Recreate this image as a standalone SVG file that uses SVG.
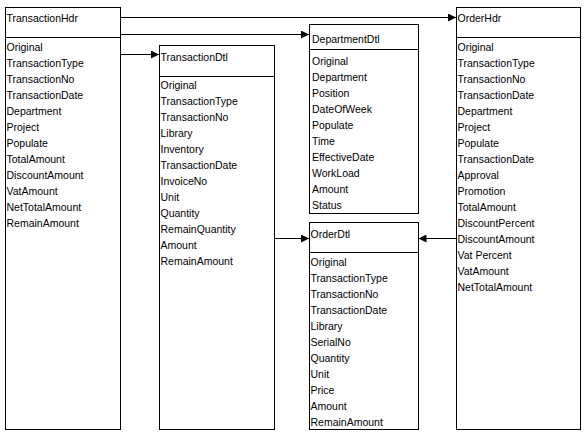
<svg xmlns="http://www.w3.org/2000/svg" width="584" height="436" viewBox="0 0 584 436">
<style>
.box{fill:#fff;stroke:#000;stroke-width:1}
.div{stroke:#000;stroke-width:1}
text{font-family:"Liberation Sans",Arial,sans-serif;font-size:10.5px;fill:#000}
.con{stroke:#000;stroke-width:1;fill:none;marker-end:url(#arr)}
</style>
<defs>
<marker id="arr" markerUnits="userSpaceOnUse" markerWidth="9" markerHeight="8" refX="8" refY="4" orient="auto">
<path d="M0,0 L8,4 L0,8 z" fill="#000"/>
</marker>
</defs>
<rect width="584" height="436" fill="#fff"/>
<g id="connectors">
<line class="con" x1="120.5" y1="17.5" x2="456" y2="17.5"/>
<line class="con" x1="120.5" y1="34.5" x2="309" y2="34.5"/>
<line class="con" x1="120.5" y1="54.5" x2="159" y2="54.5"/>
<line class="con" x1="274.5" y1="238.5" x2="309" y2="238.5"/>
<line class="con" x1="456" y1="238.5" x2="418.5" y2="238.5"/>
</g>
<g id="TransactionHdr">
<rect class="box" x="5.5" y="7.5" width="115" height="422"/>
<line class="div" x1="5.5" y1="37.5" x2="120.5" y2="37.5"/>
<text x="6.5" y="22">TransactionHdr</text>
<text x="6.5" y="51">Original</text>
<text x="6.5" y="67">TransactionType</text>
<text x="6.5" y="83">TransactionNo</text>
<text x="6.5" y="99">TransactionDate</text>
<text x="6.5" y="115">Department</text>
<text x="6.5" y="131">Project</text>
<text x="6.5" y="147">Populate</text>
<text x="6.5" y="163">TotalAmount</text>
<text x="6.5" y="179">DiscountAmount</text>
<text x="6.5" y="195">VatAmount</text>
<text x="6.5" y="211">NetTotalAmount</text>
<text x="6.5" y="227">RemainAmount</text>
</g>
<g id="TransactionDtl">
<rect class="box" x="159.5" y="45.5" width="115" height="384"/>
<line class="div" x1="159.5" y1="76.5" x2="274.5" y2="76.5"/>
<text x="160.5" y="61">TransactionDtl</text>
<text x="160.5" y="89">Original</text>
<text x="160.5" y="105">TransactionType</text>
<text x="160.5" y="121">TransactionNo</text>
<text x="160.5" y="137">Library</text>
<text x="160.5" y="153">Inventory</text>
<text x="160.5" y="169">TransactionDate</text>
<text x="160.5" y="185">InvoiceNo</text>
<text x="160.5" y="201">Unit</text>
<text x="160.5" y="217">Quantity</text>
<text x="160.5" y="233">RemainQuantity</text>
<text x="160.5" y="249">Amount</text>
<text x="160.5" y="265">RemainAmount</text>
</g>
<g id="DepartmentDtl">
<rect class="box" x="309.5" y="24.5" width="109" height="189"/>
<line class="div" x1="309.5" y1="49.5" x2="418.5" y2="49.5"/>
<text x="312" y="42.5">DepartmentDtl</text>
<text x="312" y="65">Original</text>
<text x="312" y="81">Department</text>
<text x="312" y="97">Position</text>
<text x="312" y="113">DateOfWeek</text>
<text x="312" y="129">Populate</text>
<text x="312" y="145">Time</text>
<text x="312" y="161">EffectiveDate</text>
<text x="312" y="177">WorkLoad</text>
<text x="312" y="193">Amount</text>
<text x="312" y="209">Status</text>
</g>
<g id="OrderDtl">
<rect class="box" x="309.5" y="222.5" width="109" height="207"/>
<line class="div" x1="309.5" y1="252.5" x2="418.5" y2="252.5"/>
<text x="310.5" y="237.5">OrderDtl</text>
<text x="310.5" y="266">Original</text>
<text x="310.5" y="282">TransactionType</text>
<text x="310.5" y="298">TransactionNo</text>
<text x="310.5" y="314">TransactionDate</text>
<text x="310.5" y="330">Library</text>
<text x="310.5" y="346">SerialNo</text>
<text x="310.5" y="362">Quantity</text>
<text x="310.5" y="378">Unit</text>
<text x="310.5" y="394">Price</text>
<text x="310.5" y="410">Amount</text>
<text x="310.5" y="426">RemainAmount</text>
</g>
<g id="OrderHdr">
<rect class="box" x="456.5" y="7.5" width="124" height="422"/>
<line class="div" x1="456.5" y1="37.5" x2="580.5" y2="37.5"/>
<text x="457.5" y="22">OrderHdr</text>
<text x="457.5" y="51">Original</text>
<text x="457.5" y="67">TransactionType</text>
<text x="457.5" y="83">TransactionNo</text>
<text x="457.5" y="99">TransactionDate</text>
<text x="457.5" y="115">Department</text>
<text x="457.5" y="131">Project</text>
<text x="457.5" y="147">Populate</text>
<text x="457.5" y="163">TransactionDate</text>
<text x="457.5" y="179">Approval</text>
<text x="457.5" y="195">Promotion</text>
<text x="457.5" y="211">TotalAmount</text>
<text x="457.5" y="227">DiscountPercent</text>
<text x="457.5" y="243">DiscountAmount</text>
<text x="457.5" y="259">Vat Percent</text>
<text x="457.5" y="275">VatAmount</text>
<text x="457.5" y="291">NetTotalAmount</text>
</g>
</svg>
